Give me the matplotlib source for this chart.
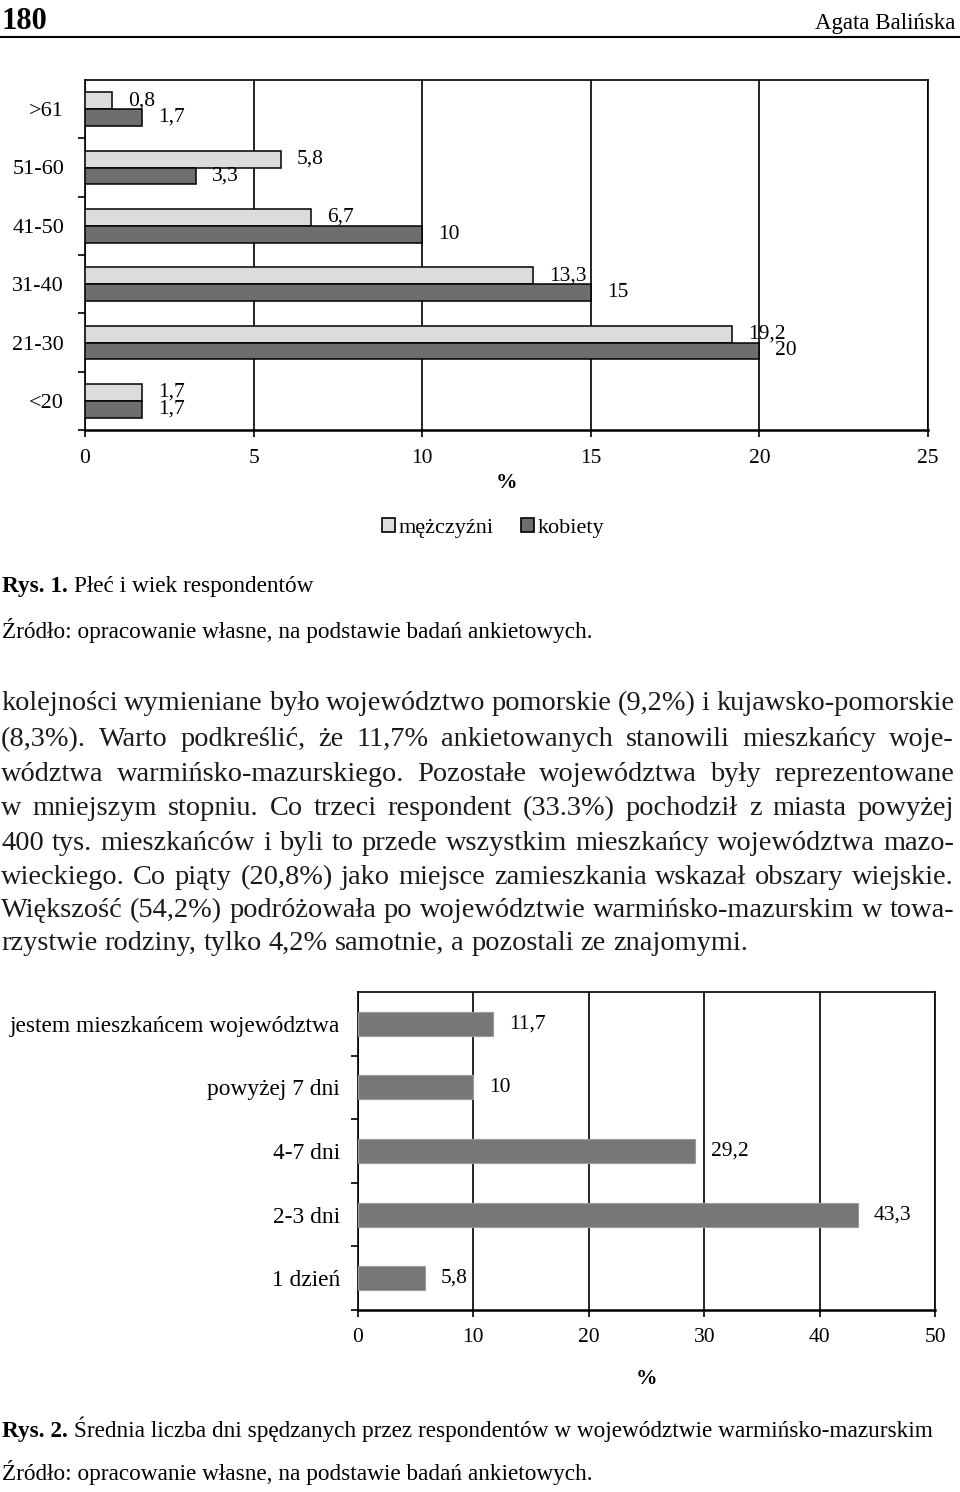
import matplotlib
matplotlib.use('Agg')
import matplotlib.pyplot as plt
from matplotlib.patches import Patch
from matplotlib.lines import Line2D

plt.rcParams['font.family'] = ['Liberation Serif', 'DejaVu Serif']

# Rys. 1 - płeć i wiek respondentów (%)
age_groups = ['>61', '51-60', '41-50', '31-40', '21-30', '<20']
men = [0.8, 5.8, 6.7, 13.3, 19.2, 1.7]
women = [1.7, 3.3, 10, 15, 20, 1.7]

# Rys. 2 - średnia liczba dni (%)
stay_labels = ['jestem mieszkańcem województwa', 'powyżej 7 dni', '4-7 dni', '2-3 dni', '1 dzień']
stay_values = [11.7, 10, 29.2, 43.3, 5.8]

body_lines = [
    'kolejności wymieniane było województwo pomorskie (9,2%) i kujawsko-pomorskie',
    '(8,3%). Warto podkreślić, że 11,7% ankietowanych stanowili mieszkańcy woje-',
    'wództwa warmińsko-mazurskiego. Pozostałe województwa były reprezentowane',
    'w mniejszym stopniu. Co trzeci respondent (33.3%) pochodził z miasta powyżej',
    '400 tys. mieszkańców i byli to przede wszystkim mieszkańcy województwa mazo-',
    'wieckiego. Co piąty (20,8%) jako miejsce zamieszkania wskazał obszary wiejskie.',
    'Większość (54,2%) podróżowała po województwie warmińsko-mazurskim w towa-',
    'rzystwie rodziny, tylko 4,2% samotnie, a pozostali ze znajomymi.',
]
source = 'Źródło: opracowanie własne, na podstawie badań ankietowych.'

W, H = 960, 1492
fig = plt.figure(figsize=(W / 100, H / 100), dpi=100)
r = fig.canvas.get_renderer()


def fx(px):
    return px / W


def fy(py):
    return 1 - py / H


def fmt(v):
    return f'{v:g}'.replace('.', ',')


def width_of(t):
    return t.get_window_extent(renderer=r).width


def fit_size(s, target, **kw):
    t = fig.text(0, 0, s, fontsize=10, **kw)
    w = width_of(t)
    t.remove()
    return 10 * target / w


# nagłówek strony
fig.text(fx(2), fy(29), '180', fontsize=22, fontweight='bold', va='baseline')
fig.text(fx(955), fy(29), 'Agata Balińska', fontsize=16.5, ha='right', va='baseline')
fig.add_artist(Line2D([0, 1], [fy(37), fy(37)], color='black', lw=1.5))

# ---- Rys. 1 ----
light, dark = '#dcdcdc', '#6e6e6e'
ax1 = fig.add_axes([fx(85), fy(430), (928 - 85) / W, (430 - 80) / H])
pos = list(range(len(age_groups)))
bh = 0.286
ax1.barh([p - bh / 2 for p in pos], men, height=bh, color=light, edgecolor='black', lw=1.1, zorder=3)
ax1.barh([p + bh / 2 for p in pos], women, height=bh, color=dark, edgecolor='black', lw=1.1, zorder=3)
for p, v in zip(pos, men):
    ax1.annotate(fmt(v), (v, p - bh / 2), xytext=(11.5, 0), textcoords='offset points',
                 va='center', fontsize=15.5, zorder=4)
for p, v in zip(pos, women):
    ax1.annotate(fmt(v), (v, p + bh / 2), xytext=(11.5, 0), textcoords='offset points',
                 va='center', fontsize=15.5, zorder=4)
ax1.set_xlim(0, 25)
ax1.set_ylim(len(age_groups) - 0.5, -0.5)
ax1.set_xticks(range(0, 26, 5))
ax1.set_yticks(pos)
ax1.set_yticklabels(age_groups)
ax1.set_yticks([p + 0.5 for p in pos], minor=True)
ax1.tick_params(axis='y', which='major', length=0, pad=15, labelsize=16)
ax1.tick_params(axis='y', which='minor', length=5, width=1.2)
ax1.tick_params(axis='x', length=5, width=1.2, pad=9, labelsize=15.5)
ax1.grid(axis='x', color='black', lw=1.2, zorder=1)
for s in ax1.spines.values():
    s.set_linewidth(1.2)
ax1.spines['bottom'].set_linewidth(1.8)
ax1.set_xlabel('%', fontsize=15.5, fontweight='bold', labelpad=3)

fig.legend(handles=[Patch(facecolor=light, edgecolor='black', lw=1.2, label='mężczyźni'),
                    Patch(facecolor=dark, edgecolor='black', lw=1.2, label='kobiety')],
           loc='center', bbox_to_anchor=(fx(493), fy(528)), ncol=2, frameon=False,
           fontsize=16, handlelength=0.6, handleheight=0.6, handletextpad=0.15,
           columnspacing=1.2)

# podpisy rysunków
cap_size = fit_size('Rys. 2. Średnia liczba dni spędzanych przez respondentów w województwie warmińsko-mazurskim', 933)


def caption(y, bold, rest):
    t = fig.text(fx(2), fy(y), bold, fontsize=cap_size, fontweight='bold', va='baseline')
    w = width_of(t)
    fig.text(fx(2 + w + cap_size * 0.25 * 100 / 72), fy(y), rest, fontsize=cap_size, va='baseline')


caption(592, 'Rys. 1.', 'Płeć i wiek respondentów')
fig.text(fx(2), fy(638), source, fontsize=cap_size, va='baseline')

# tekst główny, justowany
body_size = fit_size(body_lines[-1], 748)
space = body_size * 0.25 * 100 / 72
body_base = [710, 746, 781, 815, 850, 884, 917, 950]
for i, (line, y) in enumerate(zip(body_lines, body_base)):
    words = line.split(' ')
    items = [fig.text(0, fy(y), w, fontsize=body_size, va='baseline', color='#1a1a1a') for w in words]
    widths = [width_of(t) for t in items]
    if i == len(body_lines) - 1:
        gap = space
    else:
        gap = (955 - 2 - sum(widths)) / (len(words) - 1)
    x = 1
    for t, w in zip(items, widths):
        t.set_x(fx(x))
        x += w + gap

# ---- Rys. 2 ----
ax2 = fig.add_axes([fx(358), fy(1310), (935 - 358) / W, (1310 - 992) / H])
pos2 = list(range(len(stay_labels)))
ax2.barh(pos2, stay_values, height=0.38, color='#777777', edgecolor='#9a9a9a', lw=0.8, zorder=3)
for p, v in zip(pos2, stay_values):
    ax2.annotate(fmt(v), (v, p), xytext=(11.5, 0), textcoords='offset points',
                 va='center', fontsize=15.5, zorder=4)
ax2.set_xlim(0, 50)
ax2.set_ylim(len(stay_labels) - 0.5, -0.5)
ax2.set_xticks(range(0, 51, 10))
ax2.set_yticks(pos2)
ax2.set_yticklabels(stay_labels)
ax2.set_yticks([p + 0.5 for p in pos2], minor=True)
ax2.tick_params(axis='y', which='major', length=0, pad=13, labelsize=16.8)
ax2.tick_params(axis='y', which='minor', length=5, width=1.2)
ax2.tick_params(axis='x', length=5, width=1.2, pad=8, labelsize=15.5)
ax2.grid(axis='x', color='black', lw=1.2, zorder=1)
for s in ax2.spines.values():
    s.set_linewidth(1.2)
ax2.spines['bottom'].set_linewidth(1.8)
ax2.set_xlabel('%', fontsize=15.5, fontweight='bold', labelpad=16)

caption(1437, 'Rys. 2.', 'Średnia liczba dni spędzanych przez respondentów w województwie warmińsko-mazurskim')
fig.text(fx(2), fy(1480), source, fontsize=cap_size, va='baseline')

fig.savefig('out.png', dpi=100)
